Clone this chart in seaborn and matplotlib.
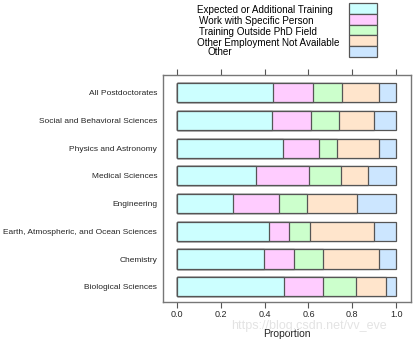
import numpy as np
import pandas as pd
import matplotlib
matplotlib.use("Agg")
import matplotlib.pyplot as plt
from matplotlib.patches import Rectangle
import seaborn as sns

categories = ["All Postdoctorates", "Social and Behavioral Sciences", "Physics and Astronomy",
              "Medical Sciences", "Engineering", "Earth, Atmospheric, and Ocean Sciences",
              "Chemistry", "Biological Sciences"]
series = ["Expected or Additional Training", "Work with Specific Person",
          "Training Outside PhD Field", "Other Employment Not Available", "Other"]
expected = [0.437, 0.432, 0.482, 0.362, 0.257, 0.422, 0.397, 0.487]
specific = [0.183, 0.180, 0.168, 0.241, 0.209, 0.091, 0.139, 0.181]
outside = [0.132, 0.129, 0.082, 0.147, 0.126, 0.096, 0.132, 0.149]
employment = [0.172, 0.160, 0.189, 0.121, 0.231, 0.292, 0.254, 0.136]
other = [0.076, 0.099, 0.079, 0.129, 0.177, 0.099, 0.078, 0.047]
xticks = [0.0, 0.2, 0.4, 0.6, 0.8, 1.0]
xticklabels = ["0.0", "0.2", "0.4", "0.6", "0.8", "1.0"]

colors = ["#CCFFFF", "#FFCCFF", "#CCFFCC", "#FFE5CC", "#CCE6FF"]

sns.set_theme(style="white")
plt.rcParams['font.family'] = ['Liberation Sans', 'DejaVu Sans']

values = np.array([expected, specific, outside, employment, other])
cum = values.cumsum(axis=0)
df = pd.DataFrame({"category": categories})
for i, s in enumerate(series):
    df[s] = cum[i]

fig = plt.figure(figsize=(4.17, 3.44), dpi=100)
ax = fig.add_axes([163/417, 1 - 302/344, (411 - 163)/417, (302 - 75)/344])

for i in range(len(series) - 1, -1, -1):
    sns.barplot(data=df, x=series[i], y="category", order=categories, color=colors[i],
                saturation=1, width=0.69, edgecolor="#555555", linewidth=0.9, ax=ax)

ax.set_xlim(-0.064, 1.068)
ax.set_ylim(len(categories) - 1 + 0.55, -0.64)
for sp in ax.spines.values():
    sp.set_color("#777777")
    sp.set_linewidth(1.0)
ax.set_xticks(xticks)
ax.set_xticklabels(xticklabels, fontsize=6.5)
ax.tick_params(axis="x", which="both", bottom=True, top=True, direction="out", length=4,
               width=0.8, color="#555555", pad=2)
ax.tick_params(axis="y", left=False, length=0, labelsize=6.05, pad=4.2)
ax.set_ylabel("")
ax.set_xlabel("Proportion", fontsize=7.5, labelpad=7)

# legend
lefts = [197, 199, 199, 197, 208]
ycent = [9.8, 20.7, 31.7, 42.7, 52.3]
for i, s in enumerate(series):
    fig.text(lefts[i]/417, 1 - ycent[i]/344, s, fontsize=7.1, ha="left", va="center", color="black")
    top = 3.3 + i * 10.7
    fig.patches.append(Rectangle((349/417, 1 - (top + 10.7)/344), 28/417, 10.7/344,
                                 transform=fig.transFigure, facecolor=colors[i],
                                 edgecolor="#555555", linewidth=0.9))

fig.text(0.74, 1 - 326/344, "https://blog.csdn.net/vv_eve", fontsize=9, color="#dddddd",
         ha="center", va="center", alpha=0.8)

fig.savefig("out.png", dpi=100)
